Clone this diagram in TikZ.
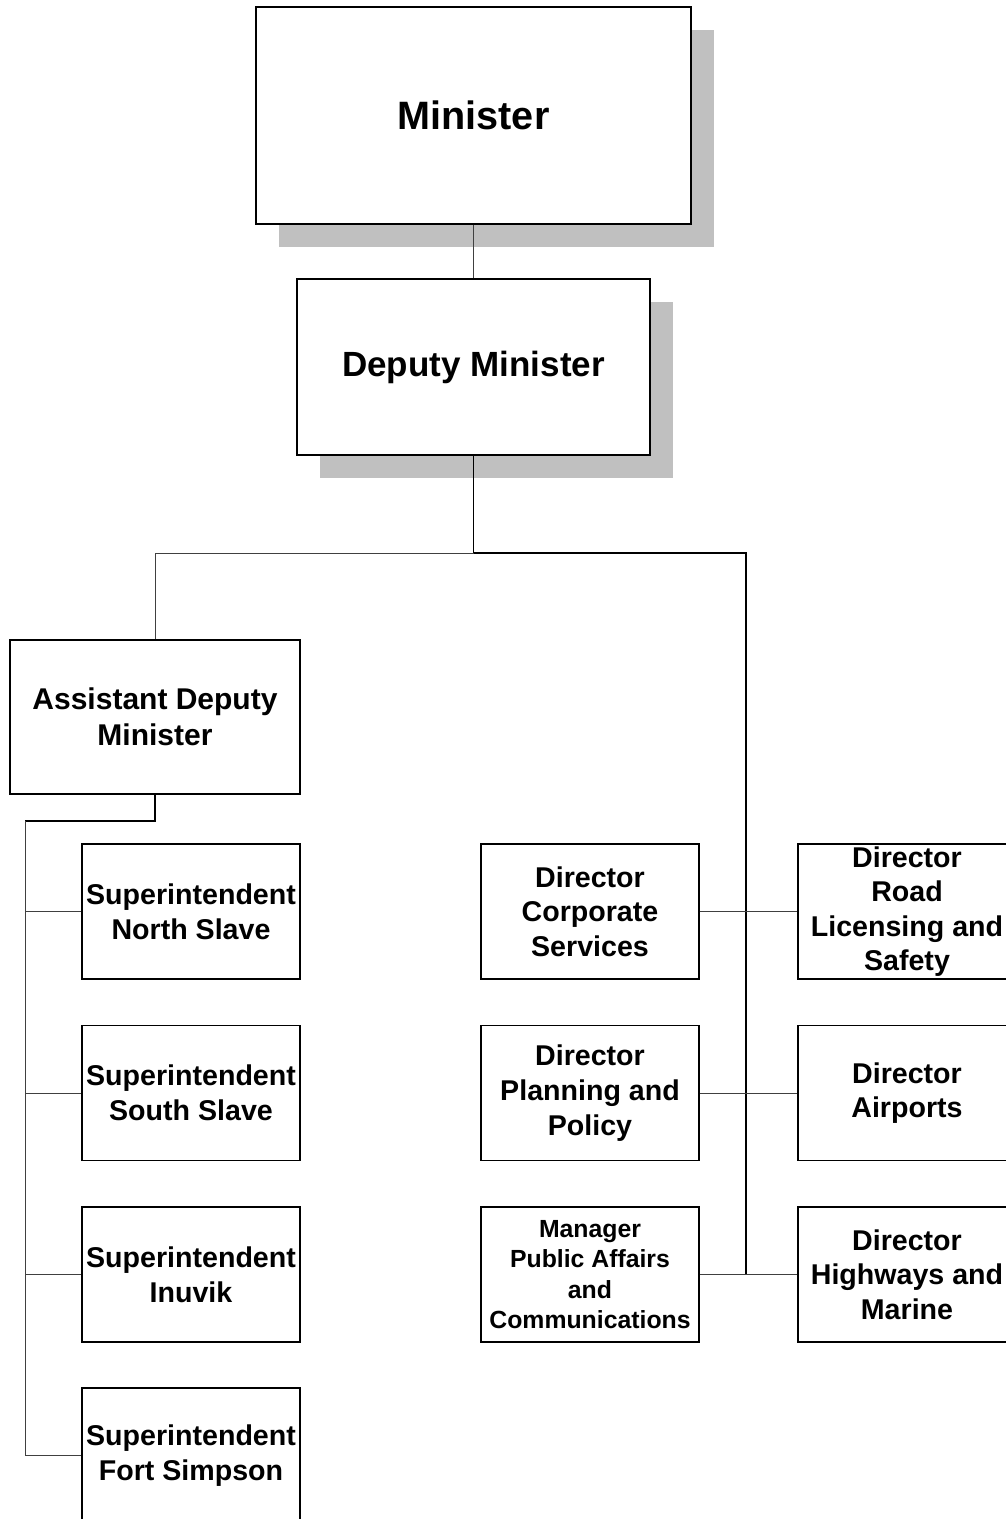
\documentclass[tikz,border=0pt]{standalone}
\usepackage{fontspec}
\setmainfont{Liberation Sans}
\usetikzlibrary{shadows}
\definecolor{shadowgray}{RGB}{192,192,192}

\begin{document}
\begin{tikzpicture}[x=1pt,y=-1pt,
post/.style={draw, line width=1.3pt, fill=white, align=center, inner sep=0pt},
shadowed/.style={drop shadow={shadow xshift=23pt, shadow yshift=-23pt, fill=shadowgray, opacity=1}},
unit/.style={post, minimum width=218pt, minimum height=135pt, font=\bfseries\fontsize{28.6}{34.6}\selectfont},
small/.style={font=\bfseries\fontsize{24.8}{30.4}\selectfont},
thin/.style={line width=0.9pt, black!75},
thick/.style={line width=1.8pt}]
\useasboundingbox (0,0) rectangle (1006,1519);
% top
\node[post, shadowed, minimum width=435pt, minimum height=217pt, font=\bfseries\fontsize{39.6}{46}\selectfont] (min) at (473.5,115.5) {Minister};
\node[post, shadowed, minimum width=353pt, minimum height=176pt, font=\bfseries\fontsize{35}{42}\selectfont] (dep) at (473.5,367) {Deputy Minister};
\draw[thin] (min.south) -- (dep.north);
% bus
\coordinate (bus) at (473.5,553);
\coordinate (busR) at (746,553);
\coordinate (spineEnd) at (746,1275);
\node[post, minimum width=290pt, minimum height=154pt, font=\bfseries\fontsize{30}{36}\selectfont] (adm) at (155,717) {Assistant Deputy\\Minister};
\draw[thick] (dep.south) -- (bus) -- (busR) -- (spineEnd);
\draw[thin] (bus) -| (adm.north);
% regions
\node[unit] (sup1) at (191,911.5) {Superintendent\\North Slave};
\node[unit] (sup2) at (191,1093) {Superintendent\\South Slave};
\node[unit] (sup3) at (191,1274.5) {Superintendent\\Inuvik};
\node[unit] (sup4) at (191,1455.5) {Superintendent\\Fort Simpson};
\coordinate (trunk) at (25,821);
\draw[line width=1.2pt] (adm.south) |- (trunk);
\draw[thin] (trunk) |- (sup4.west);
\foreach \i in {1,2,3}
  \draw[thin] (trunk |- sup\i.west) -- (sup\i.west);
% headquarters
\node[unit] (dcs) at (590,911.5) {Director\\Corporate\\Services};
\node[unit] (dpp) at (590,1093) {Director\\Planning and\\Policy};
\node[unit, small] (mpa) at (590,1274.5) {Manager\\Public Affairs\\and\\Communications};
\node[unit] (drl) at (907,911.5) {Director\\Road\\Licensing and\\Safety};
\node[unit] (dap) at (907,1093) {Director\\Airports};
\node[unit] (dhm) at (907,1274.5) {Director\\Highways and\\Marine};
\draw[thin] (dcs.east) -- (drl.west);
\draw[thin] (dpp.east) -- (dap.west);
\draw[thin] (mpa.east) -- (dhm.west);
\end{tikzpicture}
\end{document}
